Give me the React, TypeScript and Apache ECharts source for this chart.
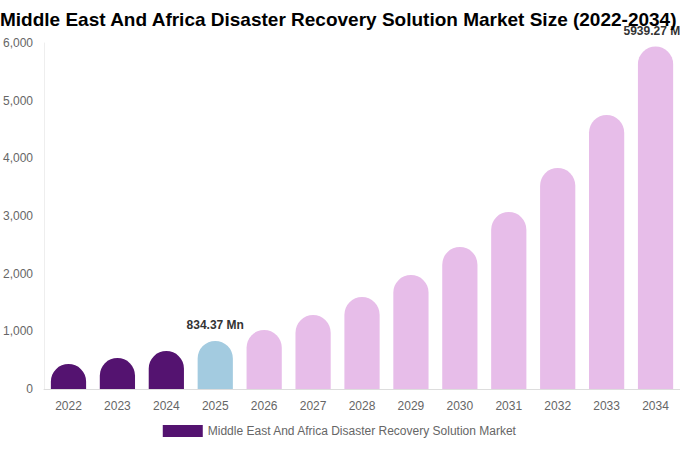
import { useEffect, useRef } from 'react';
import * as echarts from 'echarts';

const years = ['2022', '2023', '2024', '2025', '2026', '2027', '2028', '2029', '2030', '2031', '2032', '2033', '2034'];
const marketSize = [434, 537, 659, 834.37, 1023, 1283, 1595, 1977, 2462, 3069, 3832, 4751, 5939.27];
const labelledYears = ['2025', '2034'];
const yTicks = [0, 1000, 2000, 3000, 4000, 5000, 6000];

const DARK = '#541370';
const BLUE = '#a3cbe0';
const PINK = '#e7bde9';

function barColor(year: string) {
  const y = Number(year);
  if (y < 2025) return DARK;
  if (y === 2025) return BLUE;
  return PINK;
}

export default function App() {
  const chartRef = useRef<HTMLDivElement>(null);

  useEffect(() => {
    document.body.style.margin = '0';
    if (!chartRef.current) return;
    const chart = echarts.init(chartRef.current, undefined, { renderer: 'svg' });

    const option: echarts.EChartsOption = {
      animation: false,
      textStyle: { fontFamily: '"Liberation Sans", Arial, sans-serif' },
      title: {
        text: 'Middle East And Africa Disaster Recovery Solution Market Size (2022-2034)',
        left: 0,
        top: 10,
        padding: 0,
        textStyle: { fontSize: 19, fontWeight: 'bold', color: '#000' }
      },
      legend: {
        bottom: 8,
        left: 'center',
        icon: 'rect',
        itemWidth: 40,
        itemHeight: 12,
        itemGap: 10,
        data: [{ name: 'Middle East And Africa Disaster Recovery Solution Market', itemStyle: { color: DARK } }],
        textStyle: { fontSize: 12, color: '#666' }
      },
      grid: { left: 44, right: 0, top: 43, bottom: 61 },
      xAxis: {
        type: 'category',
        data: years,
        axisTick: { show: false },
        axisLine: { lineStyle: { color: '#ddd' } },
        axisLabel: { color: '#666', fontSize: 12, margin: 11 }
      },
      yAxis: {
        type: 'value',
        min: yTicks[0],
        max: yTicks[yTicks.length - 1],
        interval: 1000,
        axisLine: { show: true, lineStyle: { color: '#eee' } },
        splitLine: { show: false },
        axisLabel: {
          color: '#666',
          fontSize: 12,
          margin: 11,
          formatter: (v: number) => v.toLocaleString('en-US')
        }
      },
      series: [{
        name: 'Middle East And Africa Disaster Recovery Solution Market',
        type: 'bar',
        barWidth: '72%',
        data: marketSize.map((v, i) => ({
          value: v,
          itemStyle: { color: barColor(years[i]), borderRadius: [18, 18, 0, 0] },
          label: {
            show: labelledYears.includes(years[i]),
            position: 'top',
            distance: 10,
            formatter: `${v.toFixed(2)} Mn`,
            color: '#333',
            fontWeight: 'bold',
            fontSize: 12
          }
        }))
      }]
    };

    chart.setOption(option);
    return () => chart.dispose();
  }, []);

  return <div ref={chartRef} style={{ width: 680, height: 450 }} />;
}
